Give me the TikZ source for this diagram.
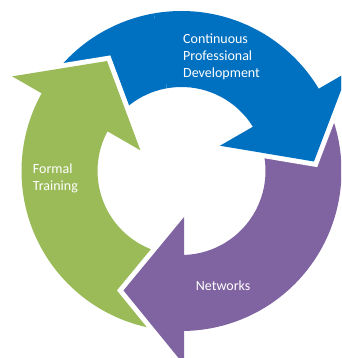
\documentclass[tikz,border=0pt]{standalone}
\usepackage{fontspec}
\setmainfont{Carlito}
\definecolor{cpdblue}{HTML}{0070C0}
\definecolor{netpurple}{HTML}{8064A2}
\definecolor{traingreen}{HTML}{9BBB59}
\tikzset{
  % filled cycle arrow with a white halo that separates it from what lies below
  cyclearrow/.style={fill=#1, preaction={draw=white, line width=10pt, line join=miter}},
  % one curved arrow of the cycle, turned by #1 degrees about the centre
  arrowshape/.style={insert path={
    ({#1+144}:160) arc[start angle={#1+144}, end angle={#1+30.95}, radius=160pt]
    -- ({#1+30.8}:194) -- ({#1+4.1}:132.8) -- ({#1+33.3}:46) -- ({#1+31.8}:84)
    arc[start angle={#1+31.8}, end angle={#1+144}, radius=84pt] -- cycle}},
  % labels are placed by the baseline of their last line
  arrowtext/.style={text=white, font=\fontsize{14}{17}\selectfont, inner sep=0pt, align=left, anchor=base west}
}
\begin{document}
\begin{tikzpicture}[x=1pt,y=1pt]
\useasboundingbox (0,0) rectangle (341,358);
\clip (0,0) rectangle (341,358);
\begin{scope}[shift={(181.5,187)}]
  \path[cyclearrow=cpdblue, arrowshape=0];
  \path[cyclearrow=traingreen, arrowshape=120];
  \path[cyclearrow=netpurple, arrowshape=-120];
  % the blue head lies over the purple tail
  \begin{scope}
    \clip (0,0) -- (-20:300) -- (40:300) -- (100:300) -- cycle;
    \path[cyclearrow=cpdblue, arrowshape=0];
  \end{scope}
\end{scope}
\node[arrowtext] (cpd) at (183,280) {Continuous\\Professional\\Development};
\node[arrowtext] (ft) at (32.7,167) {Formal\\Training};
\node[arrowtext] (nw) at (195.7,67) {Networks};
\end{tikzpicture}
\end{document}
